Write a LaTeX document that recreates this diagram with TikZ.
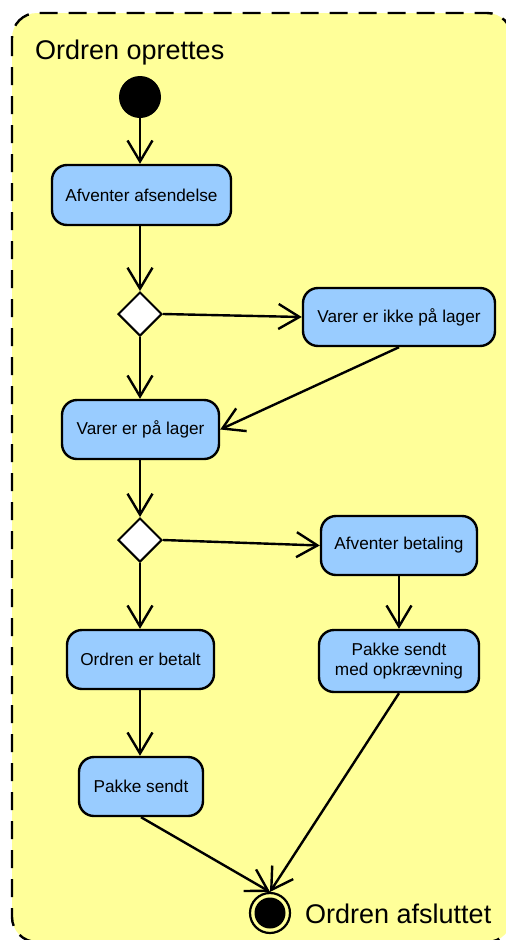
\documentclass[tikz,border=0pt]{standalone}
\usepackage{fontspec}
\setmainfont{Liberation Sans}
\usetikzlibrary{shapes.geometric,arrows.meta}
\definecolor{swimfill}{HTML}{FFFF99}
\definecolor{actfill}{HTML}{99CCFF}
\tikzset{
  act/.style={draw, line width=2.4pt, fill=actfill, rounded corners=15pt,
    font=\fontsize{17.2}{20.5}\selectfont, align=center, inner sep=0pt},
  choice/.style={draw, line width=2pt, fill=white, diamond, minimum width=44pt,
    minimum height=44pt, inner sep=0pt},
  flow/.style={line width=2.4pt, -{Straight Barb[length=21pt,width=25pt,line width=2.4pt]}},
  big/.style={font=\fontsize{27}{32}\selectfont}
}
\begin{document}
\begin{tikzpicture}[x=1pt,y=-1pt]
\useasboundingbox (0,0) rectangle (506,940);
\clip (0,0) rectangle (506,940);
% activity frame
\draw[line width=2.4pt, dash pattern=on 18pt off 11pt, fill=swimfill, rounded corners=25pt]
  (12,13) rectangle (512,942);
\node[big, anchor=west, inner sep=0pt] (title) at (35,53) {Ordren oprettes};
% start node
\node[circle, fill=black, minimum size=42pt, inner sep=0pt] (start) at (140,97) {};
% actions
\node[act, minimum width=179pt, minimum height=60pt] (wait) at (141.5,195) {Afventer afsendelse};
\node[choice] (d1) at (140,314) {};
\node[act, minimum width=192pt, minimum height=58pt] (notstock) at (399,317) {Varer er ikke på lager};
\node[act, minimum width=157pt, minimum height=59pt] (stock) at (140.5,429.5) {Varer er på lager};
\node[choice] (d2) at (140,540) {};
\node[act, minimum width=156pt, minimum height=59pt] (pay) at (399,545.5) {Afventer betaling};
\node[act, minimum width=147pt, minimum height=59pt] (paid) at (140.5,659.5) {Ordren er betalt};
\node[act, minimum width=160pt, minimum height=62pt] (cod) at (399,661) {Pakke sendt\\med opkrævning};
\node[act, minimum width=124pt, minimum height=59pt] (sent) at (141,786.5) {Pakke sendt};
% final node
\node[circle, draw=black, line width=2.2pt, fill=swimfill, minimum size=40pt, inner sep=0pt] (final) at (270,913) {};
\fill[black] (final.center) circle (15.5pt);
\node[big, anchor=west, inner sep=0pt] (endlabel) at (305,914) {Ordren afsluttet};
% flows
\draw[flow] (start) -- (start |- wait.north);
\draw[flow] (start |- wait.south) -- (d1.north);
\draw[flow] (d1.east) -- (notstock.west);
\draw[flow] (d1.south) -- (d1 |- stock.north);
\draw[flow] (notstock.south) -- (stock.east);
\draw[flow] (d1 |- stock.south) -- (d2.north);
\draw[flow] (d2.east) -- (pay.west);
\draw[flow] (d2.south) -- (d2 |- paid.north);
\draw[flow] (pay) -- (cod);
\draw[flow] (d2 |- paid.south) -- (d2 |- sent.north);
\draw[flow] (sent.south) -- (final.north);
\draw[flow] (cod.south) -- (final.north);
\end{tikzpicture}
\end{document}
